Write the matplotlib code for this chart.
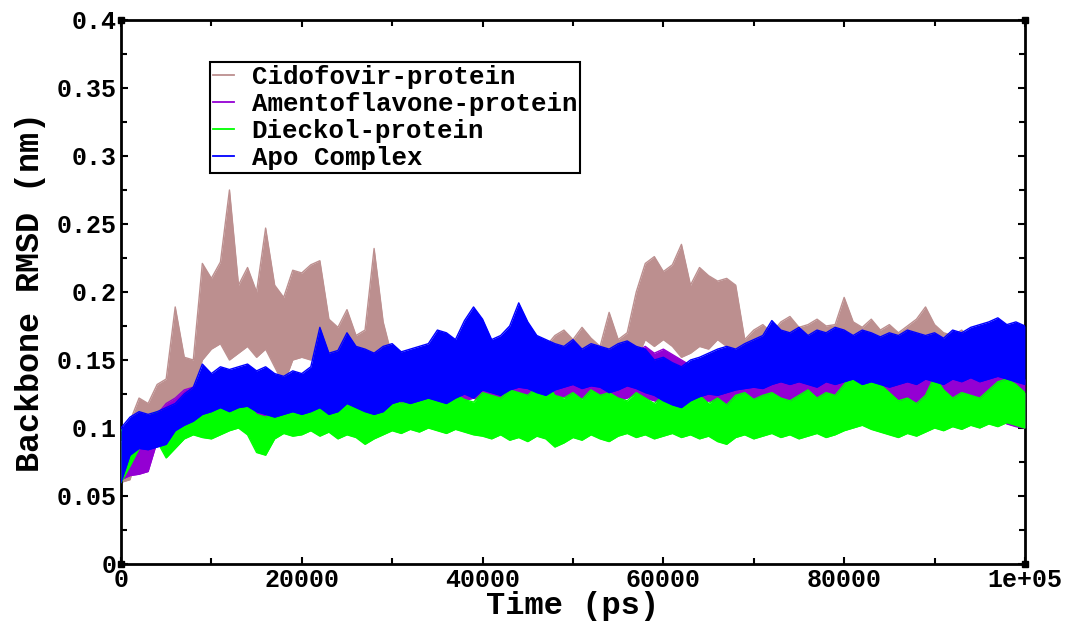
import numpy as np
import matplotlib
matplotlib.use("Agg")
import matplotlib.pyplot as plt
from matplotlib.lines import Line2D
from matplotlib.ticker import MultipleLocator, FuncFormatter

# zaman ekseni: her 1000 ps'de bir okunan üst/alt zarf değerleri (nm x 1000)
time_ps = np.arange(0, 101) * 1000

cido_hi = [95, 105, 122, 118, 132, 136, 189, 152, 150, 221, 210, 222, 275, 205, 218, 200, 247, 205, 196, 216,
           214, 220, 223, 180, 174, 187, 168, 172, 232, 178, 152, 150, 154, 151, 149, 153, 150, 152, 155, 150,
           152, 148, 150, 153, 151, 155, 152, 160, 168, 172, 165, 174, 166, 160, 185, 165, 170, 200, 221, 226,
           215, 220, 235, 205, 218, 212, 208, 210, 205, 165, 172, 176, 170, 178, 182, 174, 176, 180, 175, 176,
           196, 178, 174, 180, 172, 176, 170, 175, 180, 189, 176, 170, 168, 172, 165, 168, 162, 166, 160, 163, 160]
cido_lo = [60, 62, 85, 95, 100, 110, 120, 125, 128, 150, 158, 162, 150, 155, 160, 152, 158, 145, 132, 150,
           152, 150, 155, 150, 148, 145, 142, 140, 145, 135, 130, 128, 132, 130, 127, 131, 129, 133, 130, 128,
           131, 129, 132, 130, 128, 133, 130, 132, 135, 133, 131, 134, 130, 132, 135, 133, 138, 150, 165, 160,
           165, 160, 152, 155, 160, 158, 165, 160, 150, 140, 138, 142, 140, 143, 141, 139, 142, 140, 138, 141,
           140, 138, 136, 139, 137, 135, 138, 136, 134, 137, 135, 133, 136, 134, 132, 130, 133, 131, 128, 126, 125]

amen_hi = [90, 88, 86, 90, 110, 118, 122, 128, 130, 135, 138, 140, 138, 140, 142, 138, 140, 138, 135, 136,
           132, 134, 138, 140, 142, 145, 148, 150, 155, 157, 152, 148, 150, 153, 149, 152, 155, 150, 148, 152,
           150, 154, 148, 152, 158, 150, 153, 149, 151, 155, 150, 152, 148, 153, 150, 155, 152, 156, 160, 155,
           158, 154, 150, 146, 144, 148, 142, 145, 148, 146, 143, 147, 150, 145, 148, 144, 146, 150, 147, 145,
           142, 146, 144, 140, 145, 143, 141, 146, 148, 144, 142, 145, 140, 143, 146, 141, 144, 140, 142, 138, 136]
amen_lo = [62, 65, 66, 68, 90, 95, 100, 102, 105, 108, 110, 106, 108, 104, 110, 106, 102, 108, 104, 100,
           102, 100, 98, 105, 108, 112, 110, 114, 112, 115, 118, 116, 120, 118, 122, 119, 121, 117, 120, 122,
           119, 121, 118, 123, 120, 122, 119, 117, 121, 123, 120, 122, 118, 121, 124, 120, 122, 125, 122, 120,
           118, 116, 119, 115, 117, 120, 118, 116, 119, 117, 114, 116, 113, 115, 117, 114, 116, 112, 115, 113,
           112, 110, 113, 111, 108, 112, 110, 107, 111, 109, 106, 110, 108, 105, 109, 107, 104, 106, 103, 101, 100]

diec_hi = [98, 105, 110, 108, 112, 100, 105, 112, 115, 113, 112, 118, 120, 122, 118, 110, 108, 115, 120, 118,
           122, 125, 120, 124, 118, 122, 120, 115, 118, 122, 122, 118, 121, 123, 125, 127, 123, 125, 121, 119,
           126, 124, 122, 128, 126, 124, 130, 134, 124, 122, 126, 121, 128, 124, 126, 122, 120, 126, 122, 118,
           124, 122, 126, 120, 124, 118, 122, 117, 124, 126, 121, 124, 126, 122, 120, 124, 128, 122, 126, 124,
           132, 142, 139, 136, 132, 126, 120, 122, 118, 124, 138, 128, 122, 126, 124, 122, 128, 134, 136, 132, 126]
diec_lo = [60, 72, 85, 88, 90, 78, 85, 92, 95, 93, 92, 95, 98, 100, 95, 82, 80, 92, 96, 94,
           95, 98, 94, 97, 92, 95, 93, 88, 92, 95, 98, 96, 99, 97, 100, 98, 96, 99, 97, 95,
           94, 92, 95, 91, 93, 90, 94, 92, 86, 89, 93, 91, 95, 92, 90, 94, 96, 93, 95, 92,
           94, 96, 93, 95, 92, 94, 90, 88, 93, 95, 92, 94, 96, 93, 95, 92, 94, 96, 93, 95,
           98, 100, 102, 99, 97, 95, 93, 96, 94, 97, 100, 98, 101, 99, 102, 100, 103, 101, 104, 102, 100]

apo_hi = [100, 108, 112, 110, 112, 115, 118, 125, 130, 147, 140, 145, 143, 145, 147, 142, 145, 140, 138, 142,
          140, 145, 174, 155, 157, 170, 160, 158, 155, 160, 162, 156, 158, 160, 162, 172, 170, 165, 179, 189,
          180, 165, 168, 175, 192, 178, 168, 165, 162, 160, 165, 158, 162, 160, 158, 162, 164, 160, 158, 150,
          152, 148, 145, 150, 152, 155, 158, 160, 158, 162, 165, 168, 179, 172, 170, 174, 168, 172, 170, 174,
          172, 168, 172, 170, 167, 170, 168, 172, 170, 168, 170, 166, 172, 170, 174, 176, 178, 181, 176, 178, 175]
apo_lo = [60, 80, 85, 84, 86, 88, 98, 102, 105, 110, 112, 115, 112, 115, 116, 112, 110, 108, 110, 112,
          110, 112, 115, 110, 112, 118, 115, 112, 110, 112, 118, 120, 118, 120, 122, 120, 118, 122, 125, 122,
          128, 126, 124, 128, 130, 129, 126, 124, 128, 130, 132, 129, 131, 130, 126, 128, 131, 129, 126, 124,
          120, 117, 115, 120, 123, 125, 124, 126, 128, 129, 130, 129, 132, 134, 132, 134, 132, 130, 134, 132,
          134, 136, 132, 134, 132, 130, 132, 134, 132, 136, 134, 132, 136, 134, 137, 134, 136, 138, 136, 134, 132]

# çizim sırası: Grace set sırası (son çizilen en üstte)
names = ["Cidofovir-protein", "Amentoflavone-protein", "Dieckol-protein", "Apo Complex"]
his = [cido_hi, amen_hi, diec_hi, apo_hi]
los = [cido_lo, amen_lo, diec_lo, apo_lo]
renkler = ["#bc8f8f", "#9400d3", "#00ff00", "#0000ff"]

MONO = "Liberation Mono"

fig = plt.figure(figsize=(10.65, 6.21), dpi=100)
ax = fig.add_axes([0.1136, 0.0918, 0.8488, 0.876])

for i in range(len(names)):
    hi = np.array(his[i]) / 1000.0
    lo = np.array(los[i]) / 1000.0
    ax.fill_between(time_ps, lo, hi, color=renkler[i], linewidth=0, zorder=2 + i)
    ax.plot(time_ps, hi, color=renkler[i], linewidth=1.0, zorder=2 + i)
    ax.plot(time_ps, lo, color=renkler[i], linewidth=1.0, zorder=2 + i)

ax.set_xlim(0, 100000)
ax.set_ylim(0, 0.4)

ax.xaxis.set_major_locator(MultipleLocator(20000))
ax.xaxis.set_minor_locator(MultipleLocator(10000))
ax.yaxis.set_major_locator(MultipleLocator(0.05))
ax.yaxis.set_minor_locator(MultipleLocator(0.025))


def xfmt(v, pos):
    if v >= 100000:
        return "1e+05"
    return "%d" % v


def yfmt(v, pos):
    if abs(v) < 1e-9:
        return "0"
    return ("%.2f" % v).rstrip("0")


ax.xaxis.set_major_formatter(FuncFormatter(xfmt))
ax.yaxis.set_major_formatter(FuncFormatter(yfmt))

ax.tick_params(which="both", direction="in", top=True, right=True, width=1.5, colors="black")
ax.tick_params(which="major", length=5, labelsize=18, pad=3)
ax.tick_params(which="minor", length=4)
for lab in ax.get_xticklabels() + ax.get_yticklabels():
    lab.set_fontfamily(MONO)
    lab.set_fontweight("bold")

for sp in ax.spines.values():
    sp.set_linewidth(2)

# köşelerdeki küçük kareler (Grace görünümü)
ax.plot([0, 0, 1, 1], [0, 1, 0, 1], "s", color="black", markersize=5,
        transform=ax.transAxes, clip_on=False, zorder=10)

ax.set_xlabel("Time (ps)", fontsize=23, fontfamily=MONO, fontweight="bold")
ax.xaxis.set_label_coords(0.5, -0.05)
ax.set_ylabel("Backbone RMSD (nm)", fontsize=24, fontfamily=MONO, fontweight="bold", labelpad=8)

handles = [Line2D([0], [0], color=renkler[i], linewidth=1.3) for i in range(len(names))]
leg = ax.legend(handles, names, loc="upper left", bbox_to_anchor=(0.0985, 0.923), borderaxespad=0,
                prop={"family": MONO, "weight": "bold", "size": 18.5},
                handlelength=0.8, handletextpad=0.7, labelspacing=0.12,
                borderpad=0.12, fancybox=False, framealpha=1, edgecolor="black")
leg.get_frame().set_linewidth(1.5)
leg.set_zorder(20)

fig.savefig("out.png", dpi=100)
